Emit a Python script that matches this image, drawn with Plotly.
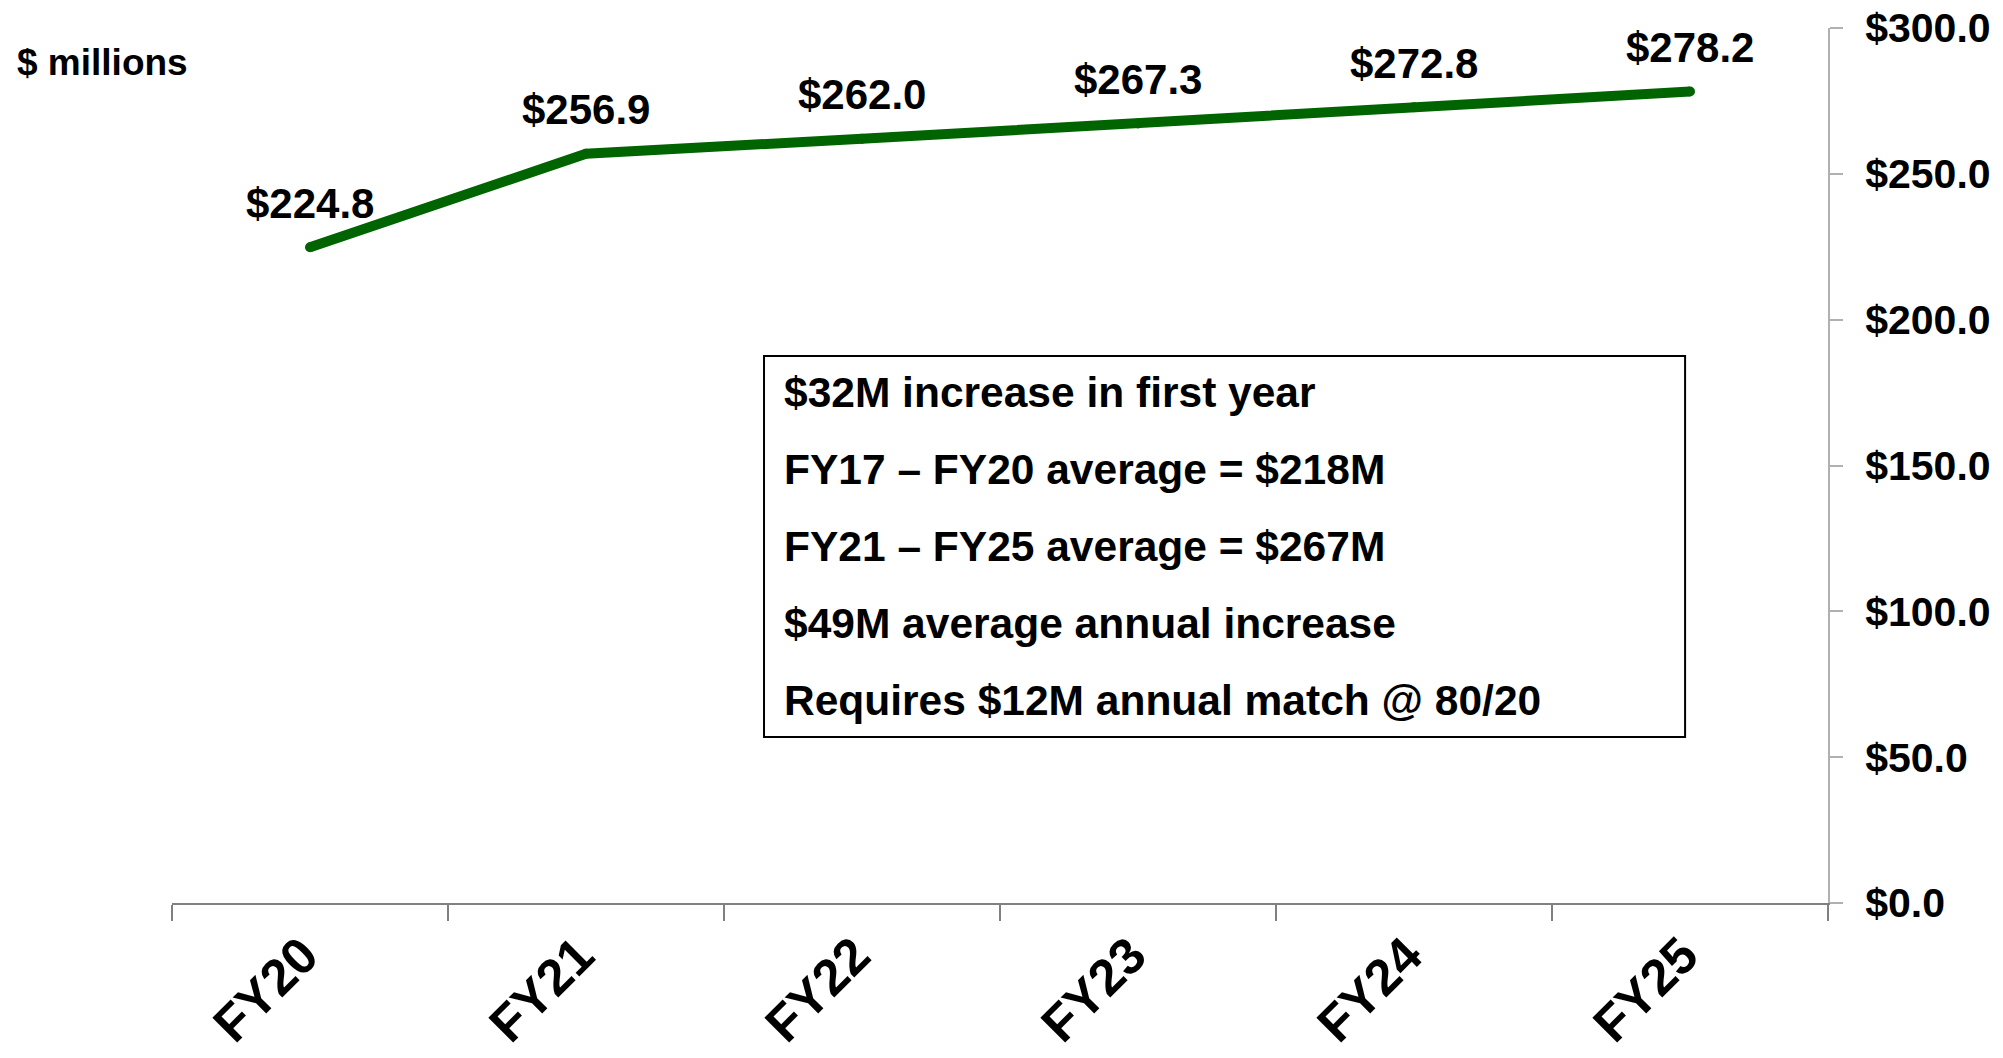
import plotly.graph_objects as go

categories = ["FY20", "FY21", "FY22", "FY23", "FY24", "FY25"]
values = [224.8, 256.9, 262.0, 267.3, 272.8, 278.2]
y_ticks = [0, 50, 100, 150, 200, 250, 300]
y_tick_labels = [f"${v:.1f}" for v in y_ticks]
box_lines = [
    "$32M increase in first year",
    "FY17 \u2013 FY20 average = $218M",
    "FY21 \u2013 FY25 average = $267M",
    "$49M average annual increase",
    "Requires $12M annual match @ 80/20",
]

FONT = "Liberation Sans, Arial, Helvetica, sans-serif"
GREEN = "#006400"

fig = go.Figure()
fig.add_trace(go.Scatter(
    x=categories, y=values, mode="lines+markers",
    line=dict(color=GREEN, width=10),
    marker=dict(color=GREEN, size=10),
    hoverinfo="skip", showlegend=False,
))

annotations = []
for c, v in zip(categories, values):
    annotations.append(dict(
        x=c, y=v, xref="x", yref="y", text=f"${v:.1f}", showarrow=False,
        yshift=44, xanchor="center", yanchor="middle",
        font=dict(family=FONT, size=42, color="black", weight="bold"),
    ))

annotations.append(dict(
    x=-0.0948, y=0.961, xref="paper", yref="paper", text="$ millions",
    showarrow=False, xanchor="left", yanchor="middle",
    font=dict(family=FONT, size=37, color="black", weight="bold"),
))

line_y = [0.5829, 0.4949, 0.4069, 0.3200, 0.2320]
for t, yy in zip(box_lines, line_y):
    annotations.append(dict(
        x=0.3686, y=yy, xref="paper", yref="paper", text=t, showarrow=False,
        xanchor="left", yanchor="middle",
        font=dict(family=FONT, size=42.5, color="black", weight="bold"),
    ))

fig.update_layout(
    template="none",
    width=2003, height=1058,
    margin=dict(l=172, r=175, t=28, b=155, pad=0, autoexpand=False),
    paper_bgcolor="white", plot_bgcolor="white",
    annotations=annotations,
    shapes=[dict(type="rect", xref="paper", yref="paper",
                 x0=0.3575, x1=0.9137, y0=0.1897, y1=0.6251,
                 line=dict(color="black", width=2), fillcolor="rgba(0,0,0,0)")],
    xaxis=dict(
        type="category", range=[-0.5, 5.5], tickson="boundaries",
        ticks="outside", ticklen=16, tickcolor="#808080", tickwidth=2,
        showline=True, linecolor="#808080", linewidth=2, automargin=False,
        showgrid=False, zeroline=False, tickangle=-45, ticklabelshift=-7,
        tickfont=dict(family=FONT, size=51, color="black", weight="bold"),
    ),
    yaxis=dict(
        side="right", range=[0, 300], tickvals=y_ticks, ticktext=y_tick_labels,
        ticks="outside", ticklen=13, tickcolor="#b0b0b0", tickwidth=2,
        showline=True, linecolor="#b0b0b0", linewidth=2, automargin=False,
        showgrid=False, zeroline=False, ticklabelstandoff=14,
        tickfont=dict(family=FONT, size=41, color="black", weight="bold"),
    ),
)

fig.write_html("out.html", config={"displayModeBar": False},
               post_script="document.body.style.margin='0';document.body.style.overflow='hidden';")
